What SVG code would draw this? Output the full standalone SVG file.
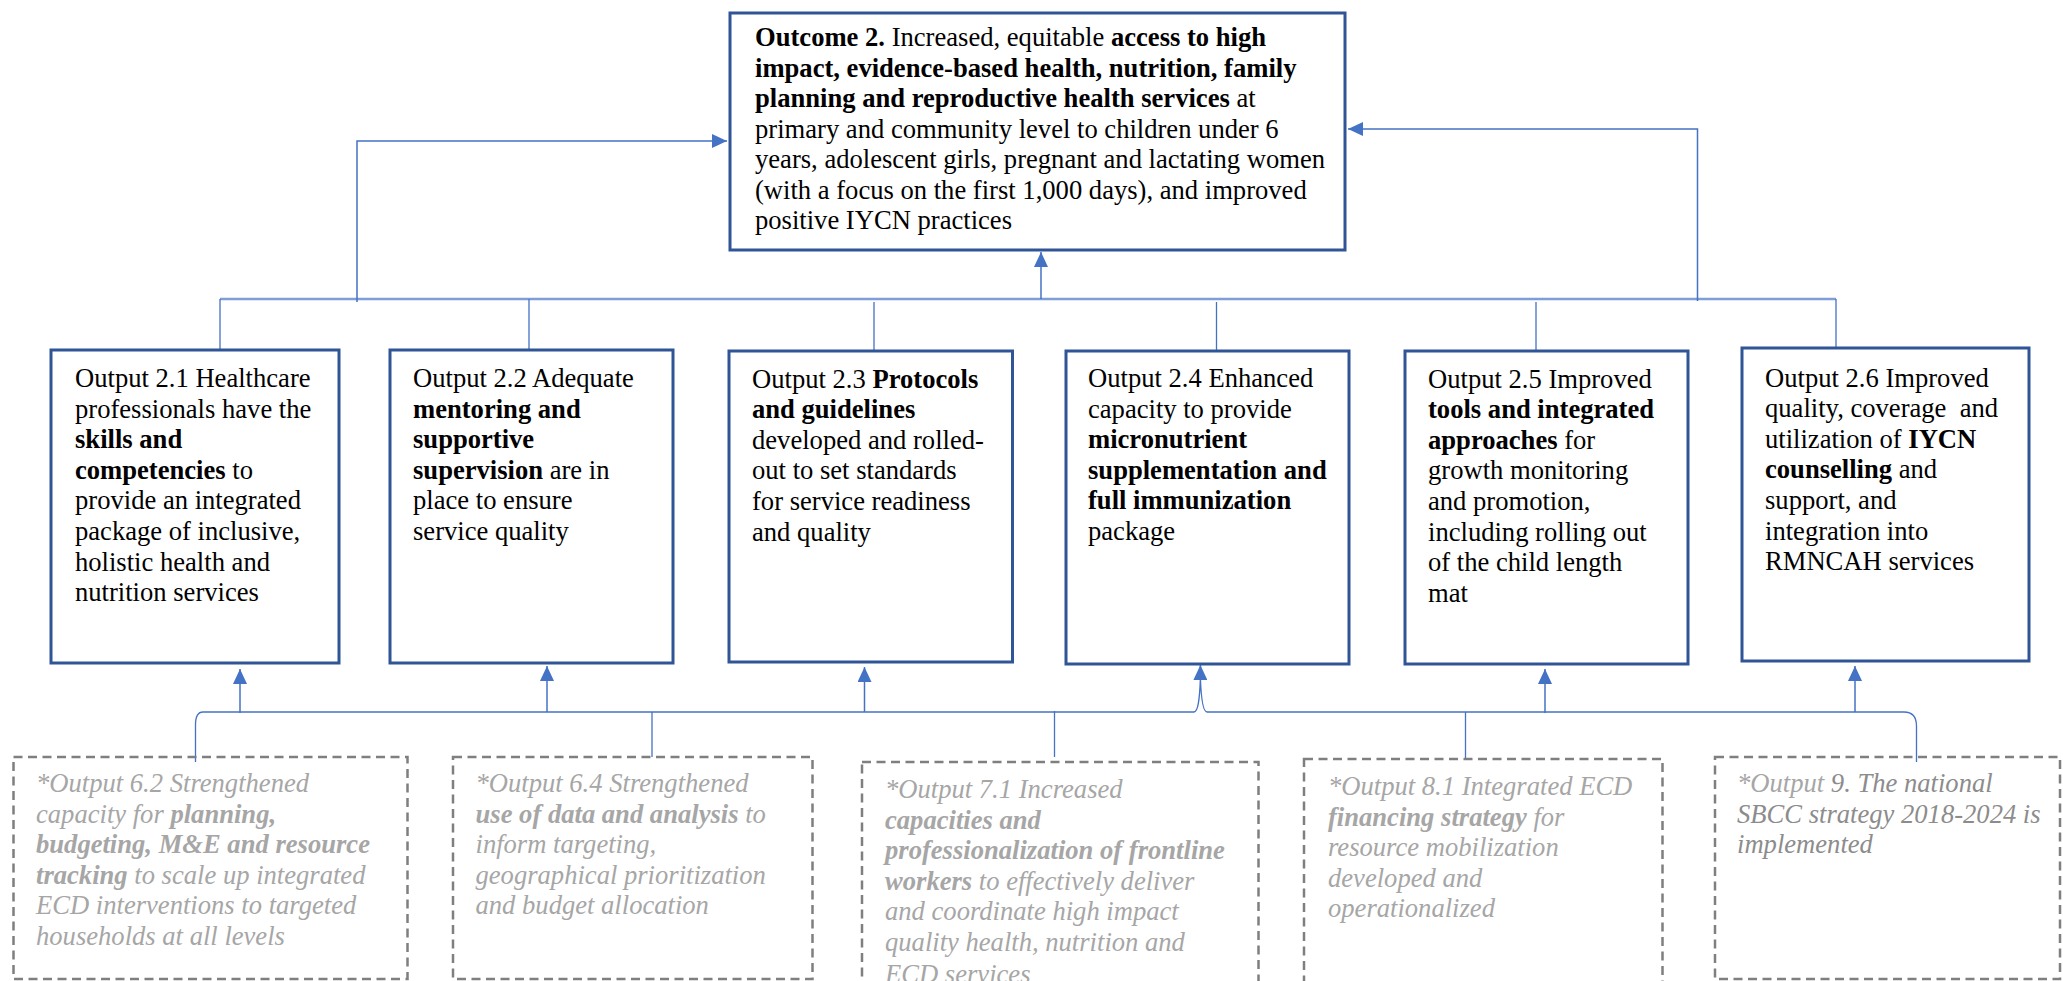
<svg xmlns="http://www.w3.org/2000/svg" width="2063" height="981" viewBox="0 0 2063 981">
  <style>
    .box { fill: #ffffff; stroke: #2F5597; stroke-width: 3; }
    .dbox { fill: none; stroke: #7F7F7F; stroke-width: 2.5; stroke-dasharray: 9 5.5; }
    .t { font-family: "Liberation Serif", "Times New Roman", serif; font-size: 26.6px; fill: #000000; }
    .it { font-style: italic; fill: #A6A6A6; }
    .b { font-weight: bold; }
    .mid { fill: #8C8C8C; }
    .bus { fill: none; stroke: #7F9ED8; stroke-width: 2.5; }
    .ln { fill: none; stroke: #4472C4; stroke-width: 1.3; }
    .arr { fill: none; stroke: #4472C4; stroke-width: 1.5; marker-end: url(#head); }
  </style>
  <defs>
    <marker id="head" viewBox="0 0 15 14" refX="15" refY="7" markerWidth="15" markerHeight="14" markerUnits="userSpaceOnUse" orient="auto">
      <path d="M0,0 L15,7 L0,14 z" fill="#4472C4"/>
    </marker>
  </defs>
  <rect x="0" y="0" width="2063" height="981" fill="#ffffff"/>

  <!-- connectors -->
  <g id="connectors">
    <!-- upper bus collecting the outputs -->
    <line class="bus" x1="220" y1="299" x2="1836" y2="299"/>
    <line class="ln" x1="220" y1="299" x2="220" y2="349"/>
    <line class="ln" x1="529" y1="299" x2="529" y2="349"/>
    <line class="ln" x1="874" y1="302" x2="874" y2="350"/>
    <line class="ln" x1="1216.5" y1="302" x2="1216.5" y2="350"/>
    <line class="ln" x1="1536" y1="302" x2="1536" y2="350"/>
    <line class="ln" x1="1836" y1="299" x2="1836" y2="347"/>
    <!-- feeders into the outcome -->
    <polyline class="arr" points="357,302 357,141 727,141"/>
    <polyline class="arr" points="1697.5,301 1697.5,129 1348,129"/>
    <line class="arr" x1="1041" y1="299" x2="1041" y2="252"/>

    <!-- lower brace collecting the contributing outputs -->
    <path class="ln" d="M195.5,762 L195.5,725 C195.5,716 197.5,712 203,712 L1194,712 C1198,712 1199.6,700 1200.4,678 C1201.2,700 1203,712 1207,712 L1904,712 C1911,712 1916.5,716 1916.5,726 L1916.5,762"/>
    <line class="ln" x1="652" y1="712" x2="652" y2="757"/>
    <line class="ln" x1="1054.5" y1="711" x2="1054.5" y2="757"/>
    <line class="ln" x1="1465.5" y1="712" x2="1465.5" y2="759"/>
    <line class="arr" x1="240" y1="713" x2="240" y2="669"/>
    <line class="arr" x1="547" y1="712" x2="547" y2="666"/>
    <line class="arr" x1="864.5" y1="712" x2="864.5" y2="667"/>
    <line class="arr" x1="1200.4" y1="679" x2="1200.4" y2="665"/>
    <line class="arr" x1="1545" y1="713" x2="1545" y2="669"/>
    <line class="arr" x1="1855" y1="712" x2="1855" y2="666"/>
  </g>

  <!-- outcome -->
  <g id="outcome-2">
    <rect class="box" x="730" y="13" width="615" height="237"/>
    <text class="t">
      <tspan x="755" y="46"><tspan class="b">Outcome 2.</tspan> Increased, equitable <tspan class="b">access to high</tspan></tspan>
      <tspan x="755" y="76.5" class="b">impact, evidence-based health, nutrition, family</tspan>
      <tspan x="755" y="107"><tspan class="b">planning and reproductive health services</tspan> at</tspan>
      <tspan x="755" y="137.5">primary and community level to children under 6</tspan>
      <tspan x="755" y="168">years, adolescent girls, pregnant and lactating women</tspan>
      <tspan x="755" y="198.5">(with a focus on the first 1,000 days), and improved</tspan>
      <tspan x="755" y="229">positive IYCN practices</tspan>
    </text>
  </g>

  <!-- outputs -->
  <g id="output-2-1">
    <rect class="box" x="51" y="350" width="288" height="313"/>
    <text class="t">
      <tspan x="75" y="387">Output 2.1 Healthcare</tspan>
      <tspan x="75" y="417.6">professionals have the</tspan>
      <tspan x="75" y="448.2" class="b">skills and</tspan>
      <tspan x="75" y="478.8"><tspan class="b">competencies</tspan> to</tspan>
      <tspan x="75" y="509.4">provide an integrated</tspan>
      <tspan x="75" y="540">package of inclusive,</tspan>
      <tspan x="75" y="570.6">holistic health and</tspan>
      <tspan x="75" y="601.2">nutrition services</tspan>
    </text>
  </g>
  <g id="output-2-2">
    <rect class="box" x="390" y="350" width="283" height="313"/>
    <text class="t">
      <tspan x="413" y="387">Output 2.2 Adequate</tspan>
      <tspan x="413" y="417.6" class="b">mentoring and</tspan>
      <tspan x="413" y="448.2" class="b">supportive</tspan>
      <tspan x="413" y="478.8"><tspan class="b">supervision</tspan> are in</tspan>
      <tspan x="413" y="509.4">place to ensure</tspan>
      <tspan x="413" y="540">service quality</tspan>
    </text>
  </g>
  <g id="output-2-3">
    <rect class="box" x="729" y="351" width="283.5" height="311"/>
    <text class="t">
      <tspan x="752" y="387.5">Output 2.3 <tspan class="b">Protocols</tspan></tspan>
      <tspan x="752" y="418.1" class="b">and guidelines</tspan>
      <tspan x="752" y="448.7">developed and rolled-</tspan>
      <tspan x="752" y="479.3">out to set standards</tspan>
      <tspan x="752" y="509.9">for service readiness</tspan>
      <tspan x="752" y="540.5">and quality</tspan>
    </text>
  </g>
  <g id="output-2-4">
    <rect class="box" x="1066" y="351" width="283" height="313"/>
    <text class="t">
      <tspan x="1088" y="387">Output 2.4 Enhanced</tspan>
      <tspan x="1088" y="417.6">capacity to provide</tspan>
      <tspan x="1088" y="448.2" class="b">micronutrient</tspan>
      <tspan x="1088" y="478.8" class="b">supplementation and</tspan>
      <tspan x="1088" y="509.4" class="b">full immunization</tspan>
      <tspan x="1088" y="540">package</tspan>
    </text>
  </g>
  <g id="output-2-5">
    <rect class="box" x="1405" y="351" width="283" height="313"/>
    <text class="t">
      <tspan x="1428" y="387.5">Output 2.5 Improved</tspan>
      <tspan x="1428" y="418.1" class="b">tools and integrated</tspan>
      <tspan x="1428" y="448.7"><tspan class="b">approaches</tspan> for</tspan>
      <tspan x="1428" y="479.3">growth monitoring</tspan>
      <tspan x="1428" y="509.9">and promotion,</tspan>
      <tspan x="1428" y="540.5">including rolling out</tspan>
      <tspan x="1428" y="571.1">of the child length</tspan>
      <tspan x="1428" y="601.7">mat</tspan>
    </text>
  </g>
  <g id="output-2-6">
    <rect class="box" x="1742" y="348" width="287" height="313"/>
    <text class="t">
      <tspan x="1765" y="386.5">Output 2.6 Improved</tspan>
      <tspan x="1765" y="417.1">quality, coverage &#160;and</tspan>
      <tspan x="1765" y="447.7">utilization of <tspan class="b">IYCN</tspan></tspan>
      <tspan x="1765" y="478.3"><tspan class="b">counselling</tspan> and</tspan>
      <tspan x="1765" y="508.9">support, and</tspan>
      <tspan x="1765" y="539.5">integration into</tspan>
      <tspan x="1765" y="570.1">RMNCAH services</tspan>
    </text>
  </g>

  <!-- contributing outputs from other outcomes -->
  <g id="output-6-2">
    <rect class="dbox" x="13.5" y="757" width="394" height="222"/>
    <text class="t it">
      <tspan x="36" y="792">*Output 6.2 Strengthened</tspan>
      <tspan x="36" y="822.6">capacity for <tspan class="b">planning,</tspan></tspan>
      <tspan x="36" y="853.2" class="b">budgeting, M&amp;E and resource</tspan>
      <tspan x="36" y="883.8"><tspan class="b">tracking</tspan> to scale up integrated</tspan>
      <tspan x="36" y="914.4">ECD interventions to targeted</tspan>
      <tspan x="36" y="945">households at all levels</tspan>
    </text>
  </g>
  <g id="output-6-4">
    <rect class="dbox" x="453" y="757" width="359.5" height="222"/>
    <text class="t it">
      <tspan x="475.5" y="792">*Output 6.4 Strengthened</tspan>
      <tspan x="475.5" y="822.6"><tspan class="b">use of data and analysis</tspan> to</tspan>
      <tspan x="475.5" y="853.2">inform targeting,</tspan>
      <tspan x="475.5" y="883.8">geographical prioritization</tspan>
      <tspan x="475.5" y="914.4">and budget allocation</tspan>
    </text>
  </g>
  <g id="output-7-1">
    <rect class="dbox" x="862" y="762" width="396.5" height="240"/>
    <text class="t it">
      <tspan x="885" y="798">*Output 7.1 Increased</tspan>
      <tspan x="885" y="828.6" class="b">capacities and</tspan>
      <tspan x="885" y="859.2" class="b">professionalization of frontline</tspan>
      <tspan x="885" y="889.8"><tspan class="b">workers</tspan> to effectively deliver</tspan>
      <tspan x="885" y="920.4">and coordinate high impact</tspan>
      <tspan x="885" y="951">quality health, nutrition and</tspan>
      <tspan x="885" y="982.5">ECD services</tspan>
    </text>
  </g>
  <g id="output-8-1">
    <rect class="dbox" x="1304" y="759" width="358.5" height="240"/>
    <text class="t it">
      <tspan x="1328" y="795">*Output 8.1 Integrated ECD</tspan>
      <tspan x="1328" y="825.6"><tspan class="b">financing strategy</tspan> for</tspan>
      <tspan x="1328" y="856.2">resource mobilization</tspan>
      <tspan x="1328" y="886.8">developed and</tspan>
      <tspan x="1328" y="917.4">operationalized</tspan>
    </text>
  </g>
  <g id="output-9">
    <rect class="dbox" x="1715" y="757" width="345" height="222"/>
    <text class="t it">
      <tspan x="1737" y="792">*Output <tspan class="mid">9. The national</tspan></tspan>
      <tspan x="1737" y="822.6" class="mid">SBCC strategy 2018-2024 is</tspan>
      <tspan x="1737" y="853.2" class="mid">implemented</tspan>
    </text>
  </g>
</svg>
